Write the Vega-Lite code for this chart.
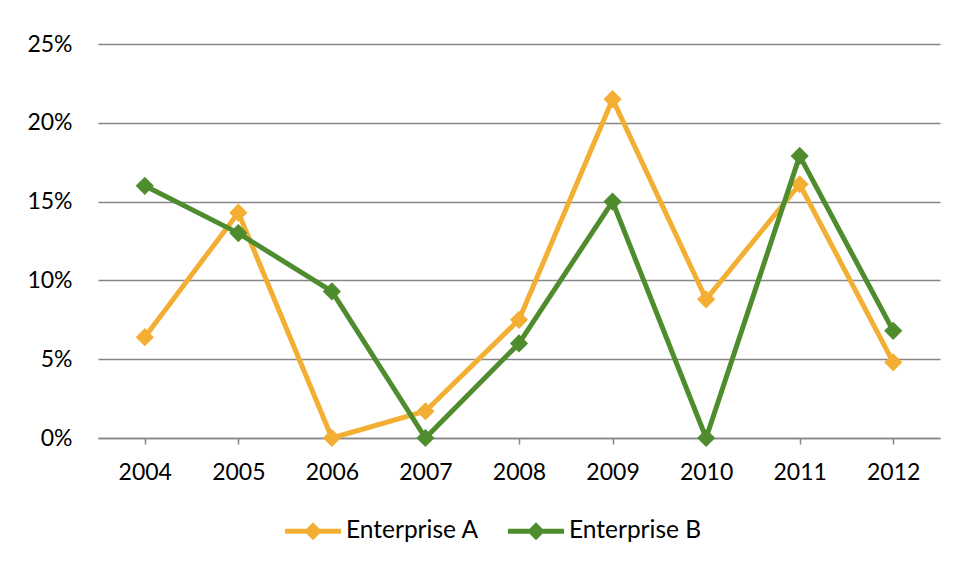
{
  "$schema": "https://vega.github.io/schema/vega-lite/v6.json",
  "width": 842,
  "height": 394,
  "autosize": {"type": "none"},
  "padding": {"left": 98, "top": 44, "right": 16, "bottom": 128},
  "background": "white",
  "config": {
    "view": {"stroke": null},
    "font": "Lato",
    "axis": {"labelFont": "Lato", "labelFontSize": 23, "labelColor": "#000000"},
    "legend": {"labelFont": "Lato", "labelFontSize": 24.5, "labelColor": "#000000"}
  },
  "data": {
    "values": [
      {"year": "2004", "series": "Enterprise A", "value": 0.064},
      {"year": "2005", "series": "Enterprise A", "value": 0.143},
      {"year": "2006", "series": "Enterprise A", "value": 0.0},
      {"year": "2007", "series": "Enterprise A", "value": 0.017},
      {"year": "2008", "series": "Enterprise A", "value": 0.075},
      {"year": "2009", "series": "Enterprise A", "value": 0.215},
      {"year": "2010", "series": "Enterprise A", "value": 0.088},
      {"year": "2011", "series": "Enterprise A", "value": 0.161},
      {"year": "2012", "series": "Enterprise A", "value": 0.048},
      {"year": "2004", "series": "Enterprise B", "value": 0.160},
      {"year": "2005", "series": "Enterprise B", "value": 0.130},
      {"year": "2006", "series": "Enterprise B", "value": 0.093},
      {"year": "2007", "series": "Enterprise B", "value": 0.0},
      {"year": "2008", "series": "Enterprise B", "value": 0.060},
      {"year": "2009", "series": "Enterprise B", "value": 0.150},
      {"year": "2010", "series": "Enterprise B", "value": 0.0},
      {"year": "2011", "series": "Enterprise B", "value": 0.179},
      {"year": "2012", "series": "Enterprise B", "value": 0.068}
    ]
  },
  "encoding": {
    "x": {
      "field": "year",
      "type": "ordinal",
      "scale": {"type": "point", "padding": 0.5},
      "axis": {
        "title": null,
        "labelAngle": 0,
        "domainColor": "#868686",
        "domainWidth": 1.5,
        "tickColor": "#868686",
        "tickWidth": 1.5,
        "tickSize": 6,
        "labelPadding": 17,
        "grid": false
      }
    },
    "y": {
      "field": "value",
      "type": "quantitative",
      "scale": {"domain": [0, 0.25], "nice": false},
      "axis": {
        "title": null,
        "values": [0, 0.05, 0.1, 0.15, 0.2, 0.25],
        "format": ".0%",
        "domain": false,
        "ticks": false,
        "labelPadding": 26,
        "gridColor": "#868686",
        "gridWidth": 1.4
      }
    },
    "color": {
      "field": "series",
      "type": "nominal",
      "scale": {"domain": ["Enterprise A", "Enterprise B"], "range": ["#F3AF33", "#4E8C2E"]},
      "legend": {
        "title": null,
        "orient": "none",
        "direction": "horizontal",
        "legendX": 187,
        "legendY": 459,
        "symbolType": "M-1,-0.09L-0.23,-0.09L0,-0.32L0.23,-0.09L1,-0.09L1,0.09L0.23,0.09L0,0.32L-0.23,0.09L-1,0.09Z",
        "symbolSize": 3136,
        "symbolStrokeWidth": 0,
        "symbolOpacity": 1,
        "labelOffset": 5,
        "columnPadding": 29
      }
    }
  },
  "layer": [
    {
      "transform": [{"filter": "datum.series === 'Enterprise A'"}],
      "mark": {"type": "line", "strokeWidth": 5, "strokeJoin": "round"}
    },
    {
      "transform": [{"filter": "datum.series === 'Enterprise A'"}],
      "mark": {"type": "point", "shape": "diamond", "filled": true, "size": 330, "opacity": 1}
    },
    {
      "transform": [{"filter": "datum.series === 'Enterprise B'"}],
      "mark": {"type": "line", "strokeWidth": 5, "strokeJoin": "round"}
    },
    {
      "transform": [{"filter": "datum.series === 'Enterprise B'"}],
      "mark": {"type": "point", "shape": "diamond", "filled": true, "size": 330, "opacity": 1}
    }
  ]
}
